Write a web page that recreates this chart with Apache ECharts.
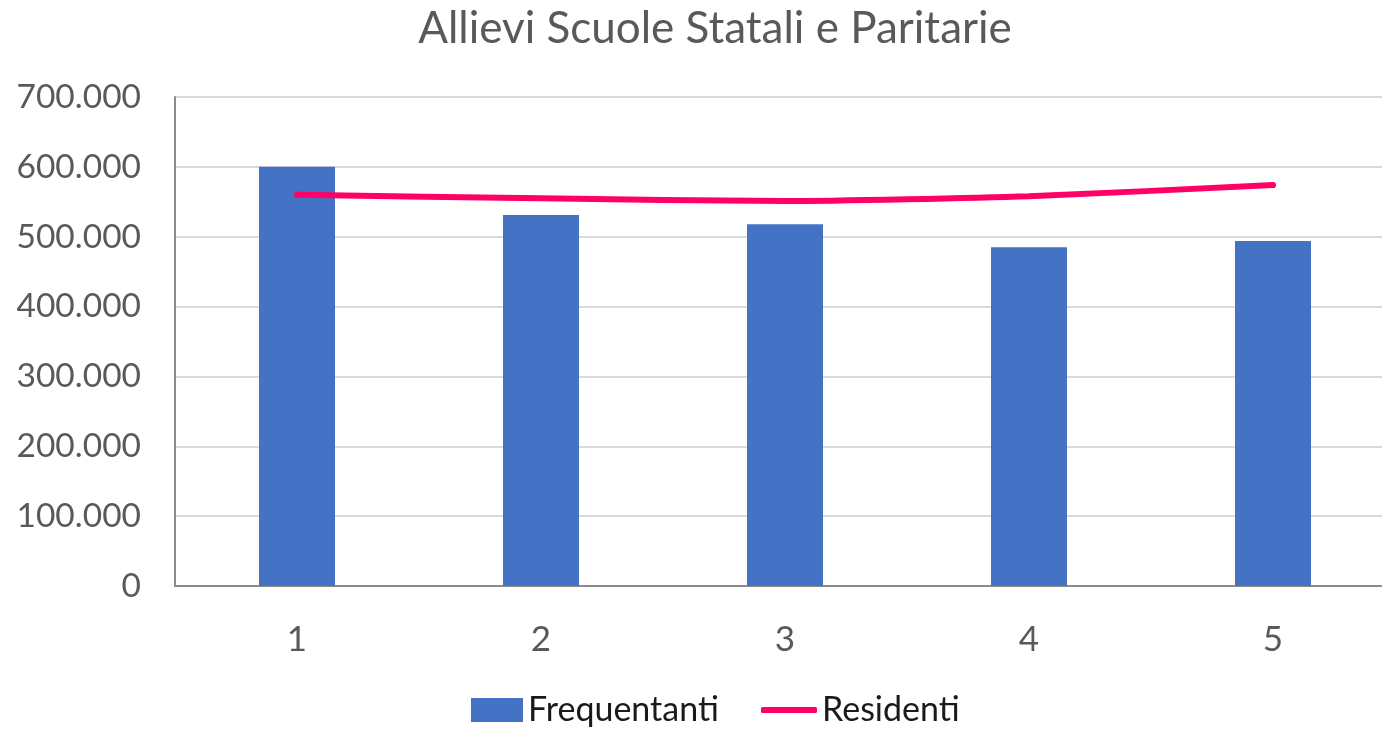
<!DOCTYPE html>
<html>
<head>
<meta charset="utf-8">
<script src="https://cdn.jsdelivr.net/npm/echarts@6/dist/echarts.min.js"></script>
<style>
html,body{margin:0;padding:0;background:#fff;overflow:hidden;}
#chart{width:1395px;height:731px;}
</style>
</head>
<body>
<div id="chart"></div>
<script>
const titleText = 'Allievi Scuole Statali e Paritarie';
const categories = ['1', '2', '3', '4', '5'];
const frequentanti = [600000, 531000, 518000, 485000, 494000];
const residenti = [560000, 555000, 551000, 558000, 574000];
const seriesNames = ['Frequentanti', 'Residenti'];

const chart = echarts.init(document.getElementById('chart'));
const font = 'Lato, "Open Sans", sans-serif';
function fmt(v) {
  return String(v).replace(/\B(?=(\d{3})+(?!\d))/g, '.');
}
chart.setOption({
  animation: false,
  backgroundColor: '#ffffff',
  title: {
    text: titleText,
    left: 710,
    textAlign: 'center',
    top: 2,
    textStyle: { fontFamily: font, fontSize: 44, fontWeight: 'normal', color: '#595959' }
  },
  legend: [
    {
      left: 466,
      top: 688,
      itemWidth: 52,
      itemHeight: 24,
      textStyle: { fontFamily: font, fontSize: 34, color: '#1a1a1a' },
      data: [{ name: seriesNames[0], icon: 'rect' }]
    },
    {
      left: 756,
      top: 688,
      itemWidth: 56,
      itemHeight: 6,
      textStyle: { fontFamily: font, fontSize: 34, color: '#1a1a1a' },
      data: [{ name: seriesNames[1], icon: 'roundRect' }]
    }
  ],
  grid: { left: 175, right: 0, top: 97, bottom: 145, containLabel: false },
  xAxis: {
    type: 'category',
    data: categories,
    axisLine: { lineStyle: { color: '#8c8c8c', width: 2 } },
    axisTick: { show: false },
    axisLabel: { fontFamily: font, fontSize: 35, color: '#595959', margin: 36 }
  },
  yAxis: {
    type: 'value',
    min: 0,
    max: 700000,
    interval: 100000,
    axisLine: { show: true, lineStyle: { color: '#8c8c8c', width: 2 } },
    axisTick: { show: false },
    splitLine: { lineStyle: { color: '#d9d9d9', width: 2 } },
    axisLabel: { fontFamily: font, fontSize: 33.5, color: '#595959', margin: 34, formatter: fmt }
  },
  series: [
    {
      name: seriesNames[0],
      type: 'bar',
      data: frequentanti,
      barWidth: 76,
      itemStyle: { color: '#4472C4' }
    },
    {
      name: seriesNames[1],
      type: 'line',
      data: residenti,
      symbol: 'none',
      smooth: 0.2,
      lineStyle: { color: '#FF0066', width: 6, cap: 'round' },
      itemStyle: { color: '#FF0066' }
    }
  ]
});
</script>
</body>
</html>
